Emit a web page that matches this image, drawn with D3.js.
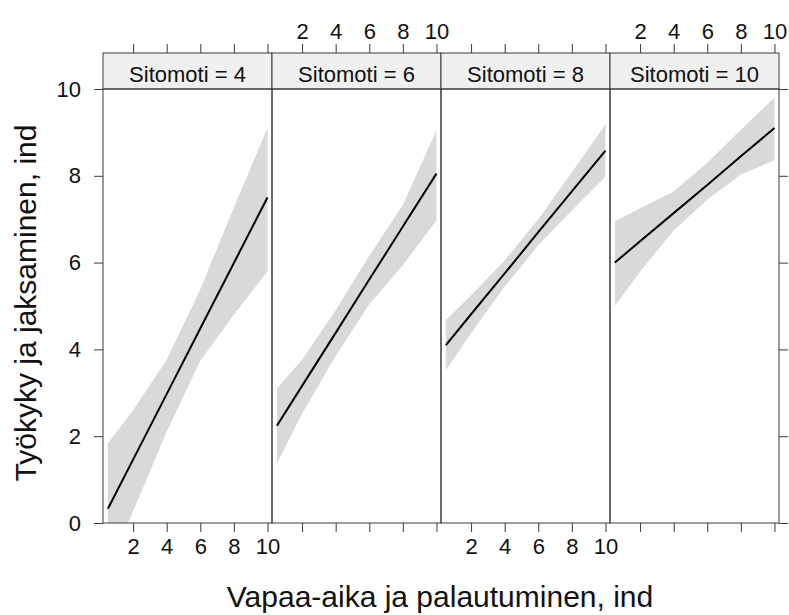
<!DOCTYPE html>
<html><head><meta charset="utf-8">
<script src="https://cdn.jsdelivr.net/npm/d3@7"></script>
<style>body{margin:0;background:#fff}svg{display:block;font-family:"Liberation Sans",Arial,sans-serif}</style>
</head><body>
<svg id="c" width="789" height="615"></svg>
<script>
// ---- data ----
const panelLabels = ["Sitomoti = 4", "Sitomoti = 6", "Sitomoti = 8", "Sitomoti = 10"];
const xPoints = [0.5, 2, 4, 6, 8, 10];
const fit4  = [0.33, 1.46, 2.97, 4.48, 5.99, 7.50];
const upr4  = [1.84, 2.60, 3.76, 5.38, 7.27, 9.10];
const lwr4  = [-1.15, 0.27, 2.10, 3.74, 4.80, 5.80];
const fit6  = [2.24, 3.16, 4.38, 5.61, 6.83, 8.05];
const upr6  = [3.10, 3.76, 4.90, 6.16, 7.33, 9.05];
const lwr6  = [1.37, 2.52, 3.85, 5.04, 5.94, 6.97];
const fit8  = [4.10, 4.81, 5.75, 6.70, 7.64, 8.58];
const upr8  = [4.68, 5.25, 6.05, 7.00, 8.08, 9.18];
const lwr8  = [3.52, 4.37, 5.45, 6.40, 7.20, 7.98];
const fit10 = [6.00, 6.49, 7.14, 7.79, 8.45, 9.10];
const upr10 = [6.95, 7.25, 7.64, 8.30, 9.06, 9.80];
const lwr10 = [5.00, 5.79, 6.74, 7.45, 8.03, 8.36];
const xTicks = [2, 4, 6, 8, 10];
const yTicks = [0, 2, 4, 6, 8, 10];
const xTitle = "Vapaa-aika ja palautuminen, ind";
const yTitle = "Työkyky ja jaksaminen, ind";

const fits = [fit4, fit6, fit8, fit10];
const uprs = [upr4, upr6, upr8, upr10];
const lwrs = [lwr4, lwr6, lwr8, lwr10];

// ---- layout ----
const svg = d3.select("#c");
const pLeft = 103, pRight = 779, stripTop = 53, pTop = 89, pBottom = 523;
const pw = (pRight - pLeft) / 4;
const y = d3.scaleLinear().domain([0, 10]).range([pBottom, pTop]);
const border = "#3a3a3a";
const fs = 22;

svg.append("defs").selectAll("clipPath").data(d3.range(4)).join("clipPath")
  .attr("id", i => "clip" + i)
  .append("rect").attr("x", i => pLeft + i * pw).attr("y", pTop).attr("width", pw).attr("height", pBottom - pTop);

for (let i = 0; i < 4; i++) {
  const x0 = pLeft + i * pw;
  const x = d3.scaleLinear().domain([0.21, 10.27]).range([x0, x0 + pw]);
  const pts = xPoints.map((v, k) => ({x: v, f: fits[i][k], u: uprs[i][k], l: lwrs[i][k]}));
  const g = svg.append("g").attr("clip-path", `url(#clip${i})`);
  g.append("path").datum(pts)
    .attr("d", d3.area().x(d => x(d.x)).y0(d => y(d.l)).y1(d => y(d.u)))
    .attr("fill", "#d9d9d9");
  g.append("path").datum(pts)
    .attr("d", d3.line().x(d => x(d.x)).y(d => y(d.f)))
    .attr("fill", "none").attr("stroke", "#000").attr("stroke-width", 2);

  // strip
  svg.append("rect").attr("x", x0).attr("y", stripTop).attr("width", pw).attr("height", pTop - stripTop)
    .attr("fill", "#f0f0f0").attr("stroke", border).attr("stroke-width", 1);
  svg.append("text").attr("x", x0 + pw / 2).attr("y", 82).attr("text-anchor", "middle")
    .attr("font-size", fs).attr("fill", "#111").text(panelLabels[i]);
  // panel border
  svg.append("rect").attr("x", x0).attr("y", pTop).attr("width", pw).attr("height", pBottom - pTop)
    .attr("fill", "none").attr("stroke", border).attr("stroke-width", 1);

  // bottom axis
  const ab = d3.axisBottom(x).tickValues(xTicks).tickSize(9).tickPadding(6)
    .tickFormat(i % 2 === 0 ? d3.format("d") : () => "");
  const gb = svg.append("g").attr("transform", `translate(0,${pBottom})`).call(ab);
  // top axis
  const at = d3.axisTop(x).tickValues(xTicks).tickSize(9).tickPadding(5)
    .tickFormat(i % 2 === 1 ? d3.format("d") : () => "");
  const gt = svg.append("g").attr("transform", `translate(0,${stripTop})`).call(at);
  [gb, gt].forEach(a => {
    a.select(".domain").remove();
    a.selectAll("line").attr("stroke", border);
    a.selectAll("text").attr("font-size", fs).attr("fill", "#111").attr("font-family", "Liberation Sans, Arial, sans-serif");
  });
}

// y axes
const al = svg.append("g").attr("transform", `translate(${pLeft},0)`)
  .call(d3.axisLeft(y).tickValues(yTicks).tickSize(9).tickPadding(13).tickFormat(d3.format("d")));
const ar = svg.append("g").attr("transform", `translate(${pRight},0)`)
  .call(d3.axisRight(y).tickValues(yTicks).tickSize(9).tickFormat(() => ""));
[al, ar].forEach(a => {
  a.select(".domain").remove();
  a.selectAll("line").attr("stroke", border);
  a.selectAll("text").attr("font-size", fs).attr("fill", "#111").attr("font-family", "Liberation Sans, Arial, sans-serif");
});

// titles
svg.append("text").attr("x", 440).attr("y", 607).attr("text-anchor", "middle")
  .attr("font-size", 30).attr("fill", "#111").text(xTitle);
svg.append("text").attr("transform", `translate(36,303) rotate(-90)`)
  .attr("text-anchor", "middle").attr("font-size", 30).attr("fill", "#111").text(yTitle);
</script>
</body></html>
